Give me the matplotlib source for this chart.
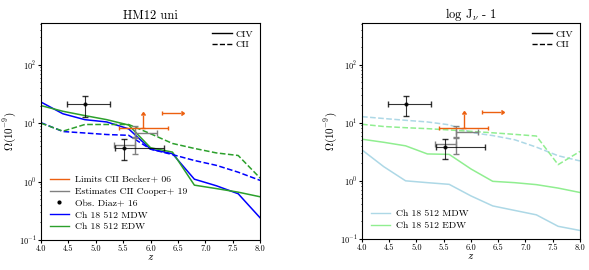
import numpy as np
import matplotlib
matplotlib.use("Agg")
import matplotlib.pyplot as plt
from matplotlib.lines import Line2D

plt.rcParams['font.family'] = 'serif'
plt.rcParams['font.serif'] = ['cmr10', 'DejaVu Serif']
plt.rcParams['mathtext.fontset'] = 'cm'
plt.rcParams['axes.formatter.use_mathtext'] = True

# simulation redshifts
z_sim = [4.0, 4.4, 4.8, 5.2, 5.6, 6.0, 6.4, 6.8, 7.2, 7.6, 8.0]

# HM12 uni
civ_mdw = [23, 14.5, 11.5, 10.5, 8.0, 3.6, 3.0, 1.1, 0.85, 0.62, 0.24]
civ_edw = [20, 16, 13.5, 11.5, 9.3, 3.8, 3.2, 0.87, 0.76, 0.66, 0.55]
cii_mdw = [10.2, 7.2, 6.8, 6.4, 6.2, 3.6, 2.9, 2.3, 1.9, 1.45, 1.05]
cii_edw = [10.0, 7.3, 9.5, 9.5, 9.5, 6.6, 4.5, 3.7, 3.1, 2.8, 1.15]

# log J_nu - 1
civ_mdw_j = [3.4, 1.75, 1.0, 0.93, 0.87, 0.55, 0.37, 0.31, 0.26, 0.165, 0.14]
civ_edw_j = [5.2, 4.6, 4.0, 2.9, 2.85, 1.6, 0.98, 0.93, 0.86, 0.75, 0.63]
cii_mdw_j = [12.7, 11.8, 11.0, 10.3, 9.2, 6.8, 6.0, 5.1, 3.8, 2.7, 2.2]
cii_edw_j = [9.4, 8.6, 8.2, 7.9, 7.5, 7.1, 6.7, 6.3, 5.9, 1.9, 3.2]

# observations
diaz_z = [4.8, 5.52]
diaz_om = [21.3, 3.8]
diaz_xerr = [[0.32, 0.17], [0.46, 0.73]]
diaz_yerr = [[8.3, 1.45], [7.4, 1.5]]

cooper_z = [5.72, 5.72]
cooper_om = [6.9, 4.3]
cooper_xerr = [[0.0, 0.38], [0.4, 0.0]]
cooper_yerr = [[1.4, 1.35], [1.9, 1.4]]

becker_z = [5.87, 6.2]
becker_om = [8.2, 15.2]
becker_xerr = [0.45, 0.35]

orange = '#ec6010'

fig = plt.figure(figsize=(5.89, 2.70), dpi=100)
ax1 = fig.add_axes([0.0696, 0.111, 0.372, 0.804])
ax2 = fig.add_axes([0.6146, 0.115, 0.370, 0.800])


def add_obs(ax):
    ax.errorbar(diaz_z, diaz_om, xerr=diaz_xerr, yerr=diaz_yerr, fmt='o',
                color='k', ms=2, lw=0.8, capsize=2, alpha=0.8, zorder=5)
    ax.errorbar(cooper_z, cooper_om, xerr=cooper_xerr, yerr=cooper_yerr,
                fmt='none', color='gray', lw=1.0, capsize=2, zorder=4)
    ax.errorbar(becker_z[0], becker_om[0], xerr=becker_xerr[0], yerr=5.7,
                lolims=True, fmt='none', color=orange, lw=1.0, capsize=1.6,
                zorder=6)
    ax.errorbar(becker_z[1], becker_om[1], xerr=becker_xerr[1],
                xlolims=True, fmt='none', color=orange, lw=1.0, capsize=1.6,
                zorder=6)


def style(ax, title):
    ax.set_yscale('log')
    ax.set_xlim(4.0, 8.0)
    ax.set_ylim(0.1, 520)
    ax.set_title(title, fontsize=9, pad=3)
    ax.set_xlabel('$z$', fontsize=8, labelpad=0)
    ax.set_ylabel(r'$\Omega(10^{-9})$', fontsize=8)
    ax.yaxis.set_label_coords(-0.105, 0.5)
    ax.tick_params(labelsize=6, length=2, pad=1.2)
    ax.tick_params(which='minor', length=1)
    ax.set_xticks([4.0, 4.5, 5.0, 5.5, 6.0, 6.5, 7.0, 7.5, 8.0])
    ax.set_xticklabels(['4.0', '4.5', '5.0', '5.5', '6.0', '6.5', '7.0', '7.5', '8.0'])
    ion = [Line2D([], [], color='k', lw=1, ls='-'),
           Line2D([], [], color='k', lw=1, ls='--')]
    leg = ax.legend(ion, ['CIV', 'CII'], loc='upper right', frameon=False,
                    fontsize=7, handlelength=2.0, handletextpad=0.4,
                    labelspacing=0.2, borderaxespad=0.3)
    ax.add_artist(leg)


# left panel
ax1.plot(z_sim, civ_mdw, color='blue', lw=1.1)
ax1.plot(z_sim, civ_edw, color='tab:green', lw=1.1)
ax1.plot(z_sim, cii_mdw, color='blue', lw=1.1, ls='--')
ax1.plot(z_sim, cii_edw, color='tab:green', lw=1.1, ls='--')
add_obs(ax1)
style(ax1, 'HM12 uni')
h1 = [Line2D([], [], color=orange, lw=1),
      Line2D([], [], color='gray', lw=1),
      Line2D([], [], color='k', marker='o', ms=2, ls='none'),
      Line2D([], [], color='blue', lw=1),
      Line2D([], [], color='tab:green', lw=1)]
ax1.legend(h1, ['Limits CII Becker+ 06', 'Estimates CII Cooper+ 19',
                'Obs. Diaz+ 16', 'Ch 18 512 MDW', 'Ch 18 512 EDW'],
           loc='lower left', frameon=False, fontsize=7, handlelength=2.0,
           handletextpad=0.6, labelspacing=0.3, borderaxespad=0.5)

# right panel
ax2.plot(z_sim, civ_mdw_j, color='lightblue', lw=1.1)
ax2.plot(z_sim, civ_edw_j, color='lightgreen', lw=1.1)
ax2.plot(z_sim, cii_mdw_j, color='lightblue', lw=1.1, ls='--')
ax2.plot(z_sim, cii_edw_j, color='lightgreen', lw=1.1, ls='--')
add_obs(ax2)
style(ax2, r'log J$_\nu$ - 1')
h2 = [Line2D([], [], color='lightblue', lw=1),
      Line2D([], [], color='lightgreen', lw=1)]
ax2.legend(h2, ['Ch 18 512 MDW', 'Ch 18 512 EDW'], loc='lower left',
           frameon=False, fontsize=7, handlelength=2.0, handletextpad=0.6,
           labelspacing=0.3, borderaxespad=0.5)

fig.savefig('out.png', dpi=100)
